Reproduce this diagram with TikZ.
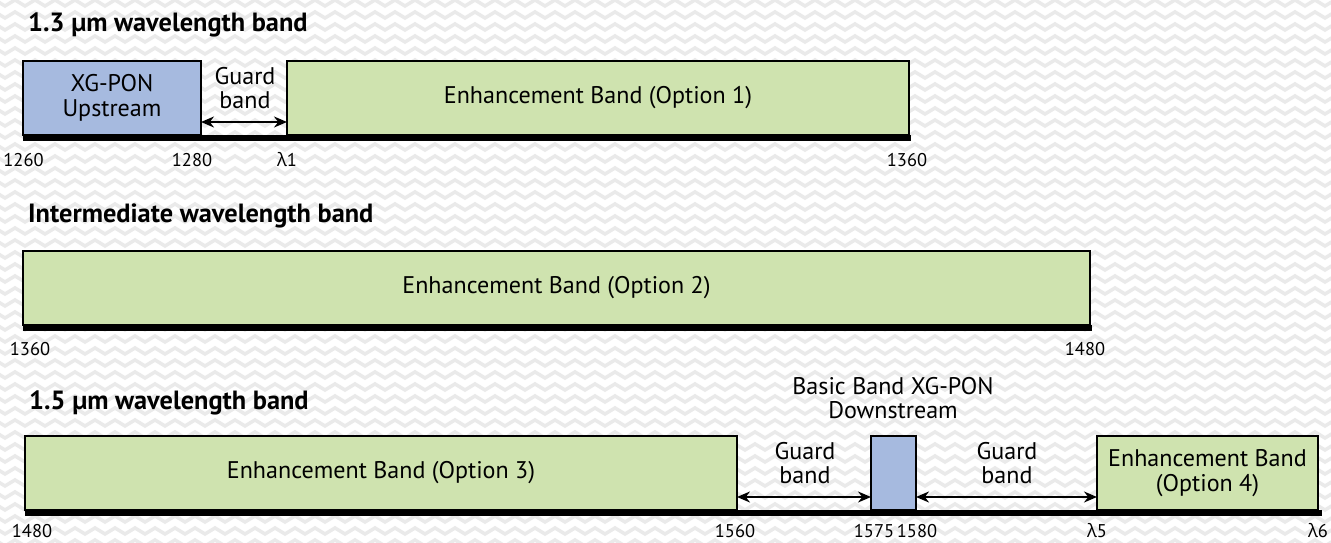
\documentclass[tikz,border=0pt]{standalone}
\usepackage{fontspec}
\setmainfont{PT Sans}
\newfontfamily\greekfont{Open Sans}
\usepackage{xcolor}
\usepackage{tikz}
\usetikzlibrary{arrows.meta,decorations.pathmorphing}
\definecolor{upblue}{HTML}{A6BADF}
\definecolor{enhgreen}{HTML}{CFE3AF}
\definecolor{zigzag}{HTML}{EAEAEA}
\newcommand{\lam}[1]{{\greekfont λ}#1}

\begin{document}
\begin{tikzpicture}[every node/.style={font=\fontsize{13.7}{14}\selectfont},
  band/.style={draw, line width=1.1pt, anchor=south west, inner sep=0pt, outer sep=0pt,
    minimum height=1.48cm, align=center},
  bandtitle/.style={anchor=base west, font=\fontsize{15}{16}\selectfont\bfseries},
  tick/.style={anchor=base, font=\fontsize{10.5}{12}\selectfont},
  guardlbl/.style={align=center},
  guard/.style={{Stealth[length=2.6mm,width=2.2mm]}-{Stealth[length=2.6mm,width=2.2mm]}, line width=1.1pt}]

  % zigzag paper in the back
  \fill[white] (0,0) rectangle (26.62,10.86);
  \begin{scope}
    \clip (0,0) rectangle (26.62,10.86);
    \foreach \y in {0,0.24,...,11.1}{
      \draw[zigzag, line width=2pt, decorate,
        decoration={zigzag, segment length=0.4cm, amplitude=0.06cm}] (-0.2,\y) -- (27,\y);
    }
  \end{scope}
  \useasboundingbox (0,0) rectangle (26.62,10.86);

  % 1.3 um band
  \node[bandtitle] (t13) at (0.44,10.22) {1.3 µm wavelength band};
  \node[band, fill=upblue, minimum width=3.56cm] (xgup) at (0.46,8.16) {XG-PON\\Upstream};
  \node[band, fill=enhgreen, minimum width=12.44cm] (opt1) at (5.74,8.16) {Enhancement Band (Option 1)};
  \fill (xgup.south west) rectangle ([xshift=0.03cm, yshift=-0.12cm]opt1.south east);
  \node[guardlbl] (g1) at (4.9,9.1) {Guard\\band};
  \draw[guard] ([yshift=0.26cm]xgup.south east) -- ([yshift=0.26cm]opt1.south west);
  \foreach \x/\lab/\nm in {0.47/1260/a1,3.84/1280/a2,5.74/\lam{1}/a3,18.14/1360/a4}{
    \node[tick] (\nm) at (\x,7.52) {\lab};
  }

  % intermediate band
  \node[bandtitle] (tint) at (0.44,6.4) {Intermediate wavelength band};
  \node[band, fill=enhgreen, minimum width=21.34cm] (opt2) at (0.46,4.36) {Enhancement Band (Option 2)};
  \fill (opt2.south west) rectangle ([xshift=0.03cm, yshift=-0.12cm]opt2.south east);
  \node[tick] (b1) at (0.6,3.74) {1360};
  \node[tick] (b2) at (21.7,3.74) {1480};

  % 1.5 um band
  \node[bandtitle] (t15) at (0.46,2.66) {1.5 µm wavelength band};
  \node[band, fill=enhgreen, minimum width=14.24cm] (opt3) at (0.5,0.66) {Enhancement Band (Option 3)};
  \node[band, fill=upblue, minimum width=0.9cm] (xgdown) at (17.42,0.66) {};
  \node[band, fill=enhgreen, minimum width=4.42cm] (opt4) at (21.94,0.66) {Enhancement Band\\(Option 4)};
  \fill (opt3.south west) rectangle ([xshift=0.08cm, yshift=-0.12cm]opt4.south east);
  \node[guardlbl] (basic) at (17.86,2.9) {Basic Band XG-PON\\Downstream};
  \node[guardlbl] (g2) at (16.1,1.6) {Guard\\band};
  \node[guardlbl] (g3) at (20.14,1.6) {Guard\\band};
  \draw[guard] ([yshift=0.26cm]opt3.south east) -- ([yshift=0.26cm]xgdown.south west);
  \draw[guard] ([yshift=0.26cm]xgdown.south east) -- ([yshift=0.26cm]opt4.south west);
  \foreach \x/\lab/\nm in {0.64/1480/c1,14.7/1560/c2,17.48/1575/c3,18.34/1580/c4,21.94/\lam{5}/c5,26.36/\lam{6}/c6}{
    \node[tick] (\nm) at (\x,0.1) {\lab};
  }
\end{tikzpicture}
\end{document}
